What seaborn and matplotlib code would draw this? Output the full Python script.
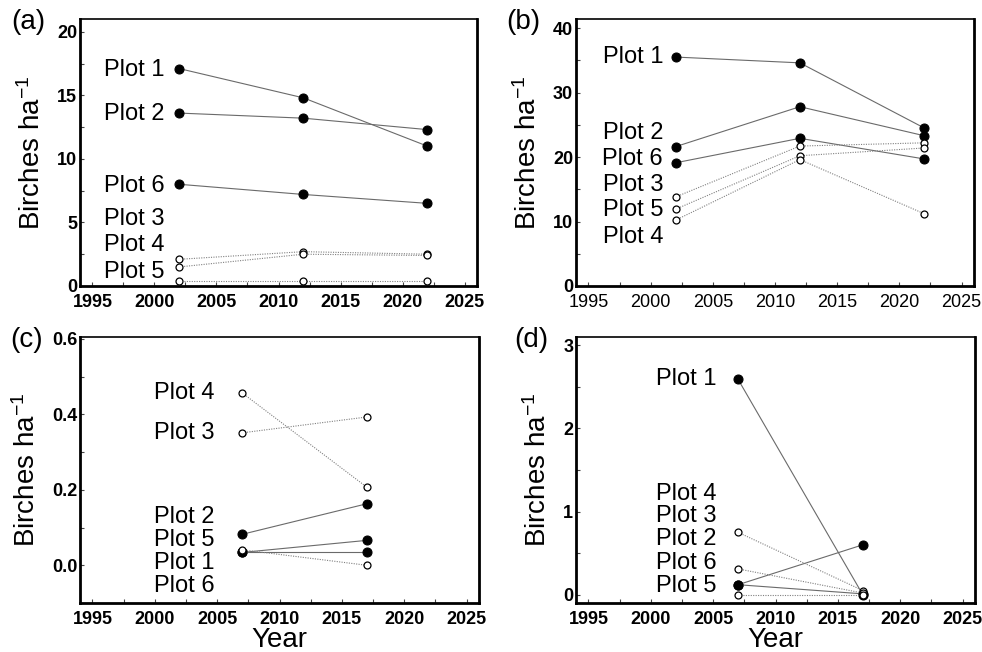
import matplotlib
matplotlib.use("Agg")
import matplotlib.pyplot as plt
from matplotlib.ticker import MultipleLocator, FormatStrFormatter
import seaborn as sns

sns.set_style("ticks")
plt.rcParams["font.family"] = ["Liberation Sans", "DejaVu Sans"]
plt.rcParams["mathtext.fontset"] = "custom"
plt.rcParams["mathtext.rm"] = "Liberation Sans"
plt.rcParams["mathtext.it"] = "Liberation Sans:italic"
plt.rcParams["text.color"] = "black"
plt.rcParams["axes.labelcolor"] = "black"
plt.rcParams["xtick.color"] = "black"
plt.rcParams["ytick.color"] = "black"

# ---- data ----
years_a = [2002, 2012, 2022]
a_plot1 = [17.1, 14.8, 11.0]
a_plot2 = [13.6, 13.2, 12.3]
a_plot6 = [8.0, 7.2, 6.5]
a_plot3 = [2.1, 2.7, 2.5]
a_plot4 = [1.5, 2.5, 2.4]
a_plot5 = [0.4, 0.4, 0.4]

years_b = [2002, 2012, 2022]
b_plot1 = [35.5, 34.6, 24.5]
b_plot2 = [21.6, 27.8, 23.3]
b_plot6 = [19.1, 22.9, 19.7]
b_plot3 = [13.8, 21.7, 22.2]
b_plot5 = [11.9, 20.2, 21.4]
b_plot4 = [10.2, 19.6, 11.2]

years_c = [2007, 2017]
c_plot2 = [0.082, 0.163]
c_plot5 = [0.034, 0.066]
c_plot1 = [0.034, 0.034]
c_plot4 = [0.457, 0.207]
c_plot3 = [0.351, 0.393]
c_plot6 = [0.041, 0.0]

years_d = [2007, 2017]
d_plot1 = [2.59, 0.0]
d_plot2 = [0.12, 0.60]
d_plot5 = [0.12, 0.01]
d_plot3 = [0.75, 0.05]
d_plot6 = [0.31, 0.02]
d_plot4 = [0.0, 0.0]

# filled = solid line / black dot, open = dotted line / white circle
panels = [
    dict(tag="(a)", years=years_a,
         filled={"Plot 1": a_plot1, "Plot 2": a_plot2, "Plot 6": a_plot6},
         hollow={"Plot 3": a_plot3, "Plot 4": a_plot4, "Plot 5": a_plot5}),
    dict(tag="(b)", years=years_b,
         filled={"Plot 1": b_plot1, "Plot 2": b_plot2, "Plot 6": b_plot6},
         hollow={"Plot 3": b_plot3, "Plot 5": b_plot5, "Plot 4": b_plot4}),
    dict(tag="(c)", years=years_c,
         filled={"Plot 2": c_plot2, "Plot 5": c_plot5, "Plot 1": c_plot1},
         hollow={"Plot 4": c_plot4, "Plot 3": c_plot3, "Plot 6": c_plot6}),
    dict(tag="(d)", years=years_d,
         filled={"Plot 1": d_plot1, "Plot 2": d_plot2, "Plot 5": d_plot5},
         hollow={"Plot 3": d_plot3, "Plot 6": d_plot6, "Plot 4": d_plot4}),
]

# label placement (layout only)
label_x = [2000.8, 2001.0, 2004.8, 2005.3]
label_y = [
    {"Plot 1": 17.0, "Plot 2": 13.5, "Plot 6": 7.9, "Plot 3": 5.3, "Plot 4": 3.2, "Plot 5": 1.1},
    {"Plot 1": 35.5, "Plot 2": 23.7, "Plot 6": 19.7, "Plot 3": 15.7, "Plot 5": 11.8, "Plot 4": 7.6},
    {"Plot 4": 0.457, "Plot 3": 0.35, "Plot 2": 0.128, "Plot 5": 0.068, "Plot 1": 0.006, "Plot 6": -0.055},
    {"Plot 1": 2.59, "Plot 4": 1.21, "Plot 3": 0.95, "Plot 2": 0.67, "Plot 6": 0.38, "Plot 5": 0.10},
]
ylims = [(0, 21), (0, 41.4), (-0.1, 0.605), (-0.1, 3.1)]
ymajor = [5, 10, 0.2, 1]
yminor = [2.5, 5, 0.1, 0.5]

W, H = 982, 652
fig = plt.figure(figsize=(W / 100, H / 100), dpi=100)
boxes = [(80, 477, 19, 286), (576, 974, 19, 286), (80, 479, 337, 603), (576, 975, 337, 603)]
tag_xy = [(28, 22), (523, 22), (27, 340), (531, 340)]

for i, p in enumerate(panels):
    l, r, t, b = boxes[i]
    ax = fig.add_axes([l / W, (H - b) / H, (r - l) / W, (b - t) / H])
    for name, vals in p["filled"].items():
        sns.lineplot(x=p["years"], y=vals, ax=ax, color="#6a6a6a", lw=0.8,
                     marker="o", markersize=6.5, markerfacecolor="black",
                     markeredgecolor="black", zorder=3)
    for name, vals in p["hollow"].items():
        sns.lineplot(x=p["years"], y=vals, ax=ax, color="#808080", lw=0.8,
                     linestyle=(0, (1, 1.2)), marker="o", markersize=5,
                     markerfacecolor="white", markeredgecolor="black",
                     markeredgewidth=0.9, zorder=3)
    for name, yy in label_y[i].items():
        ax.text(label_x[i], yy, name, ha="right", va="center", fontsize=17)

    ax.set_xlim(1994, 2026)
    ax.set_ylim(*ylims[i])
    ax.xaxis.set_major_locator(MultipleLocator(5))
    ax.xaxis.set_minor_locator(MultipleLocator(2.5))
    ax.yaxis.set_major_locator(MultipleLocator(ymajor[i]))
    ax.yaxis.set_minor_locator(MultipleLocator(yminor[i]))
    if i == 2:
        ax.yaxis.set_major_formatter(FormatStrFormatter("%.1f"))
    ax.tick_params(which="both", direction="in", length=3, width=0.8, color="#444")
    ax.tick_params(axis="x", which="major", pad=6)
    ax.tick_params(axis="y", which="major", pad=2)
    xw = "normal" if i == 1 else "bold"
    for lab in ax.get_xticklabels():
        lab.set_fontsize(13)
        lab.set_fontweight(xw)
    for lab in ax.get_yticklabels():
        lab.set_fontsize(13)
        lab.set_fontweight("bold")
    for side in ["left", "bottom", "right"]:
        ax.spines[side].set_linewidth(2)
        ax.spines[side].set_color("black")
    ax.spines["top"].set_linewidth(1.2)
    ax.spines["top"].set_color("black")
    ax.set_ylabel("Birches ha$^{-1}$", fontsize=20, labelpad=8)
    if i >= 2:
        ax.set_xlabel("Year", fontsize=20, labelpad=-1)
    else:
        ax.set_xlabel("")
    fig.text(tag_xy[i][0] / W, 1 - tag_xy[i][1] / H, p["tag"], fontsize=20,
             ha="center", va="center")

fig.savefig("out.png", dpi=100)
